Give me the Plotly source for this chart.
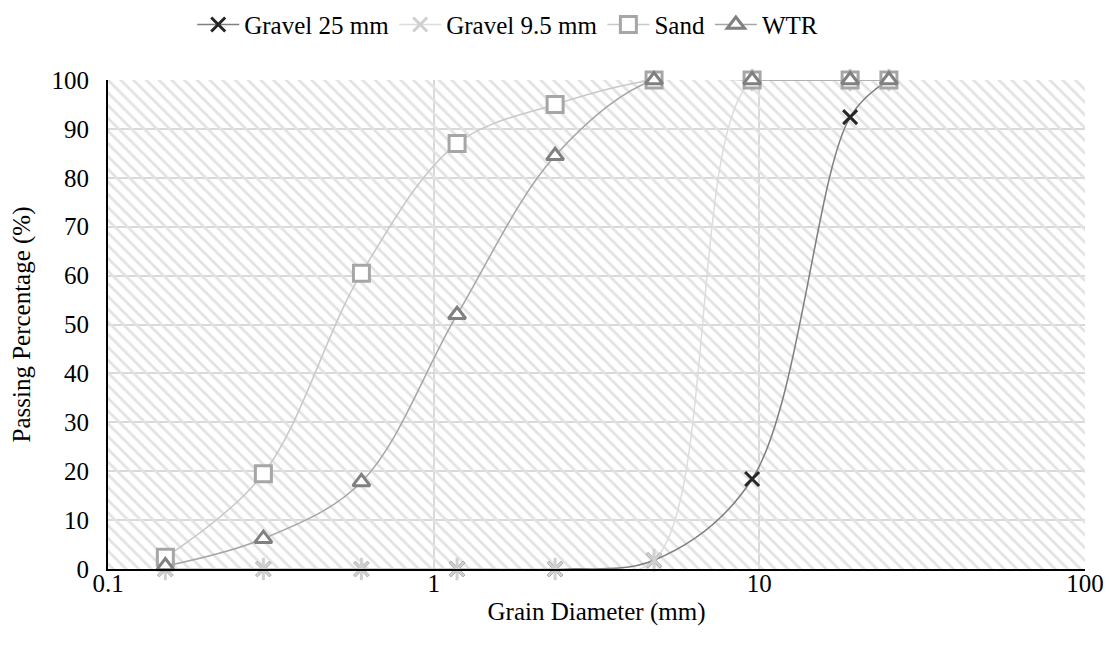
import plotly.graph_objects as go

# ---- data ----
sieve_mm = [0.15, 0.3, 0.6, 1.18, 2.36, 4.75, 9.5, 19, 25]
gravel_25 = [0, 0, 0, 0, 0, 1.8, 18.4, 92.4, 100]
gravel_9_5 = [0, 0, 0, 0, 0, 1.8, 100, 100, 100]
sand = [2.4, 19.5, 60.5, 87, 95, 100, 100, 100, 100]
wtr = [0.6, 6.2, 17.8, 52, 84.5, 100, 100, 100, 100]

x_tickvals = [0.1, 1, 10, 100]
x_ticktext = ["0.1", "1", "10", "100"]
X_MIN, X_MAX = 0.1, 100
Y_MIN, Y_MAX = 0, 100

FONT = "Liberation Serif"
FS = 25

fig = go.Figure()

# hatched plot-area background
fig.add_trace(go.Scatter(
    x=[X_MIN, X_MAX, X_MAX, X_MIN, X_MIN],
    y=[Y_MIN, Y_MIN, Y_MAX, Y_MAX, Y_MIN],
    mode="none", fill="toself", fillcolor="rgba(0,0,0,0)",
    fillpattern=dict(shape="\\", fgcolor="#e2e2e2", bgcolor="rgba(0,0,0,0)",
                     size=9, solidity=0.3, fillmode="replace"),
    showlegend=False, hoverinfo="skip",
))

fig.add_trace(go.Scatter(
    x=sieve_mm, y=gravel_25, name="Gravel 25 mm", mode="lines+markers",
    line=dict(color="#7f7f7f", width=1.5, shape="spline"),
    marker=dict(symbol="x-thin", size=14, color="#262626",
                line=dict(color="#262626", width=3)),
    cliponaxis=False,
))
fig.add_trace(go.Scatter(
    x=sieve_mm, y=gravel_9_5, name="Gravel 9.5 mm", mode="lines+markers",
    line=dict(color="#dcdcdc", width=1.5, shape="spline"),
    marker=dict(symbol="x-thin", size=14, color="#d0d0d0",
                line=dict(color="#d0d0d0", width=3)),
    cliponaxis=False, legendgroup="g95",
))
fig.add_trace(go.Scatter(
    x=sieve_mm, y=gravel_9_5, name="Gravel 9.5 mm", mode="markers",
    marker=dict(symbol="line-ns", size=16, color="#d0d0d0",
                line=dict(color="#d0d0d0", width=3)),
    cliponaxis=False, legendgroup="g95", showlegend=False, hoverinfo="skip",
))
fig.add_trace(go.Scatter(
    x=sieve_mm, y=sand, name="Sand", mode="lines+markers",
    line=dict(color="#c8c8c8", width=1.5, shape="spline"),
    marker=dict(symbol="square", size=16, color="white",
                line=dict(color="#a6a6a6", width=3)),
    cliponaxis=False,
))
fig.add_trace(go.Scatter(
    x=sieve_mm, y=wtr, name="WTR", mode="lines+markers",
    line=dict(color="#a6a6a6", width=1.5, shape="spline"),
    marker=dict(symbol="triangle-up", size=15, color="white",
                line=dict(color="#808080", width=3)),
    cliponaxis=False,
))

fig.update_layout(
    width=1108, height=643,
    margin=dict(l=99, r=29, t=72, b=82),
    paper_bgcolor="white", plot_bgcolor="white",
    font=dict(family=FONT, size=FS, color="black"),
    legend=dict(orientation="h", xref="container", yref="container",
                x=0.451, xanchor="center", y=0.974, yanchor="middle",
                font=dict(family=FONT, size=FS), itemwidth=42,
                bgcolor="rgba(0,0,0,0)"),
    xaxis=dict(type="log", range=[-1, 2], tickvals=x_tickvals, ticktext=x_ticktext,
               showgrid=True, gridcolor="#d9d9d9", gridwidth=1.5,
               showline=True, linecolor="black", linewidth=2,
               ticks="", ticklen=0, zeroline=False, ticklabelstandoff=-9,
               title=dict(text="Grain Diameter (mm)", standoff=6,
                          font=dict(family=FONT, size=FS))),
    yaxis=dict(range=[Y_MIN, Y_MAX], dtick=10, tick0=0,
               showgrid=True, gridcolor="#d9d9d9", gridwidth=1.5,
               showline=True, linecolor="black", linewidth=2,
               ticks="", ticklen=0, zeroline=False, ticklabelstandoff=12,
               title=dict(text="Passing Percentage (%)", standoff=14,
                          font=dict(family=FONT, size=FS))),
)

fig.write_html("out.html")
